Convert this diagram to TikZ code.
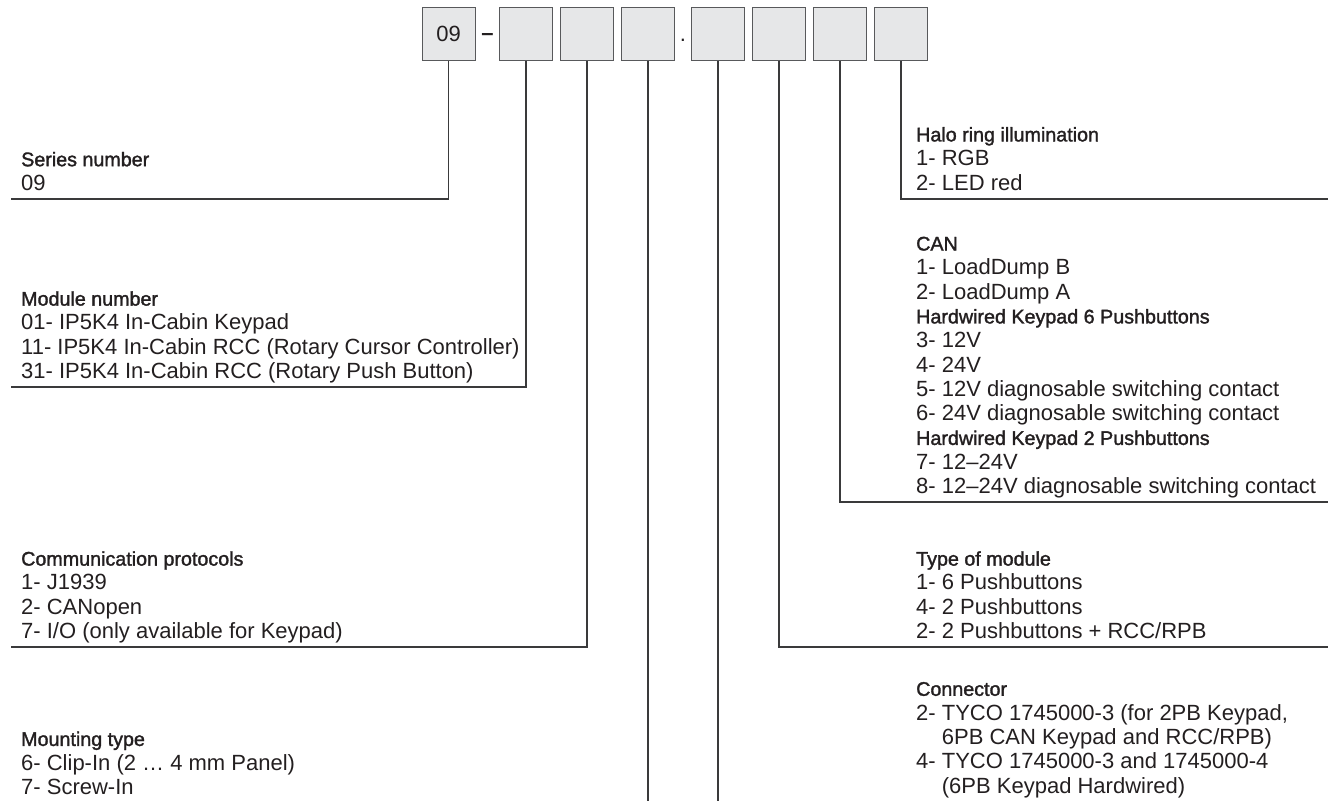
\documentclass[tikz,border=0pt]{standalone}
\usepackage{fontspec}
\setmainfont{Liberation Sans}
\newfontfamily\medfont{Liberation Sans}[FakeBold=1.6]
\usetikzlibrary{positioning}
\definecolor{ink}{HTML}{231F20}
\definecolor{rulegray}{HTML}{3A3A3B}
\definecolor{boxfill}{HTML}{E6E7E8}
\definecolor{boxline}{HTML}{58595B}
\newcommand{\hd}[1]{{\fontsize{19.7}{24.3}\medfont #1}}
\newcommand{\lst}[1]{\begin{tabular}[b]{@{}l@{}}#1\end{tabular}}

\begin{document}
\begin{tikzpicture}[x=1pt,y=-1pt,
    digit/.style={draw=boxline,fill=boxfill,line width=1pt,minimum size=53pt,inner sep=0pt,
      text=ink,font=\fontsize{22}{24.3}\selectfont},
    lead/.style={draw=rulegray,line width=1.3pt},
    info/.style={anchor=base west,inner sep=0pt,text=ink,font=\fontsize{22}{24.3}\selectfont}]
\useasboundingbox (0,0) rectangle (1328,801);
\node[digit] (b1) at (448.5,34) {09};
\foreach \n/\x in {2/526,3/587,4/648,5/718,6/779,7/840,8/901}
  \node[digit] (b\n) at (\x,34) {};
\node[info,anchor=base] (dash) at (487.5,40.5) {\textbf{–}};
\node[info,anchor=base] (dot) at (683,41.5) {.};

\node[info] (series) at (21,190.5) {\lst{\hd{Series number}\\ 09}};
\node[info] (module) at (21,378.5) {\lst{\hd{Module number}\\
  01- IP5K4 In-Cabin Keypad\\
  11- IP5K4 In-Cabin RCC (Rotary Cursor Controller)\\
  31- IP5K4 In-Cabin RCC (Rotary Push Button)}};
\node[info] (comm) at (21,638.5) {\lst{\hd{Communication protocols}\\
  1- J1939\\ 2- CANopen\\ 7- I/O (only available for Keypad)}};
\node[info] (mount) at (21,794.5) {\lst{\hd{Mounting type}\\
  6- Clip-In (2 … 4 mm Panel)\\ 7- Screw-In}};

\node[info] (halo) at (916,190) {\lst{\hd{Halo ring illumination}\\ 1- RGB\\ 2- LED red}};
\node[info] (can) at (916,493.5) {\lst{\hd{CAN}\\
  1- LoadDump B\\ 2- LoadDump A\\
  \hd{Hardwired Keypad 6 Pushbuttons}\\
  3- 12V\\ 4- 24V\\
  5- 12V diagnosable switching contact\\
  6- 24V diagnosable switching contact\\
  \hd{Hardwired Keypad 2 Pushbuttons}\\
  7- 12–24V\\
  8- 12–24V diagnosable switching contact}};
\node[info] (type) at (916,638.5) {\lst{\hd{Type of module}\\
  1- 6 Pushbuttons\\ 4- 2 Pushbuttons\\ 2- 2 Pushbuttons + RCC/RPB}};
\node[info] (conn) at (916,793) {\lst{\hd{Connector}\\
  2- TYCO 1745000-3 (for 2PB Keypad,\\
  \phantom{2- }6PB CAN Keypad and RCC/RPB)\\
  4- TYCO 1745000-3 and 1745000-4\\
  \phantom{4- }(6PB Keypad Hardwired)}};

\coordinate (seriesEnd) at (11,199);
\coordinate (moduleEnd) at (11,387);
\coordinate (commEnd) at (11,647);
\coordinate (mountEnd) at (648,801);
\coordinate (connEnd) at (718,801);
\coordinate (typeEnd) at (1328,647);
\coordinate (canEnd) at (1328,502);
\coordinate (haloEnd) at (1328,199);
\draw[lead] (b1.south) |- (seriesEnd);
\draw[lead] (b2.south) |- (moduleEnd);
\draw[lead] (b3.south) |- (commEnd);
\draw[lead] (b4.south) -- (mountEnd);
\draw[lead] (b5.south) -- (connEnd);
\draw[lead] (b6.south) |- (typeEnd);
\draw[lead] (b7.south) |- (canEnd);
\draw[lead] (b8.south) |- (haloEnd);
\end{tikzpicture}
\end{document}
